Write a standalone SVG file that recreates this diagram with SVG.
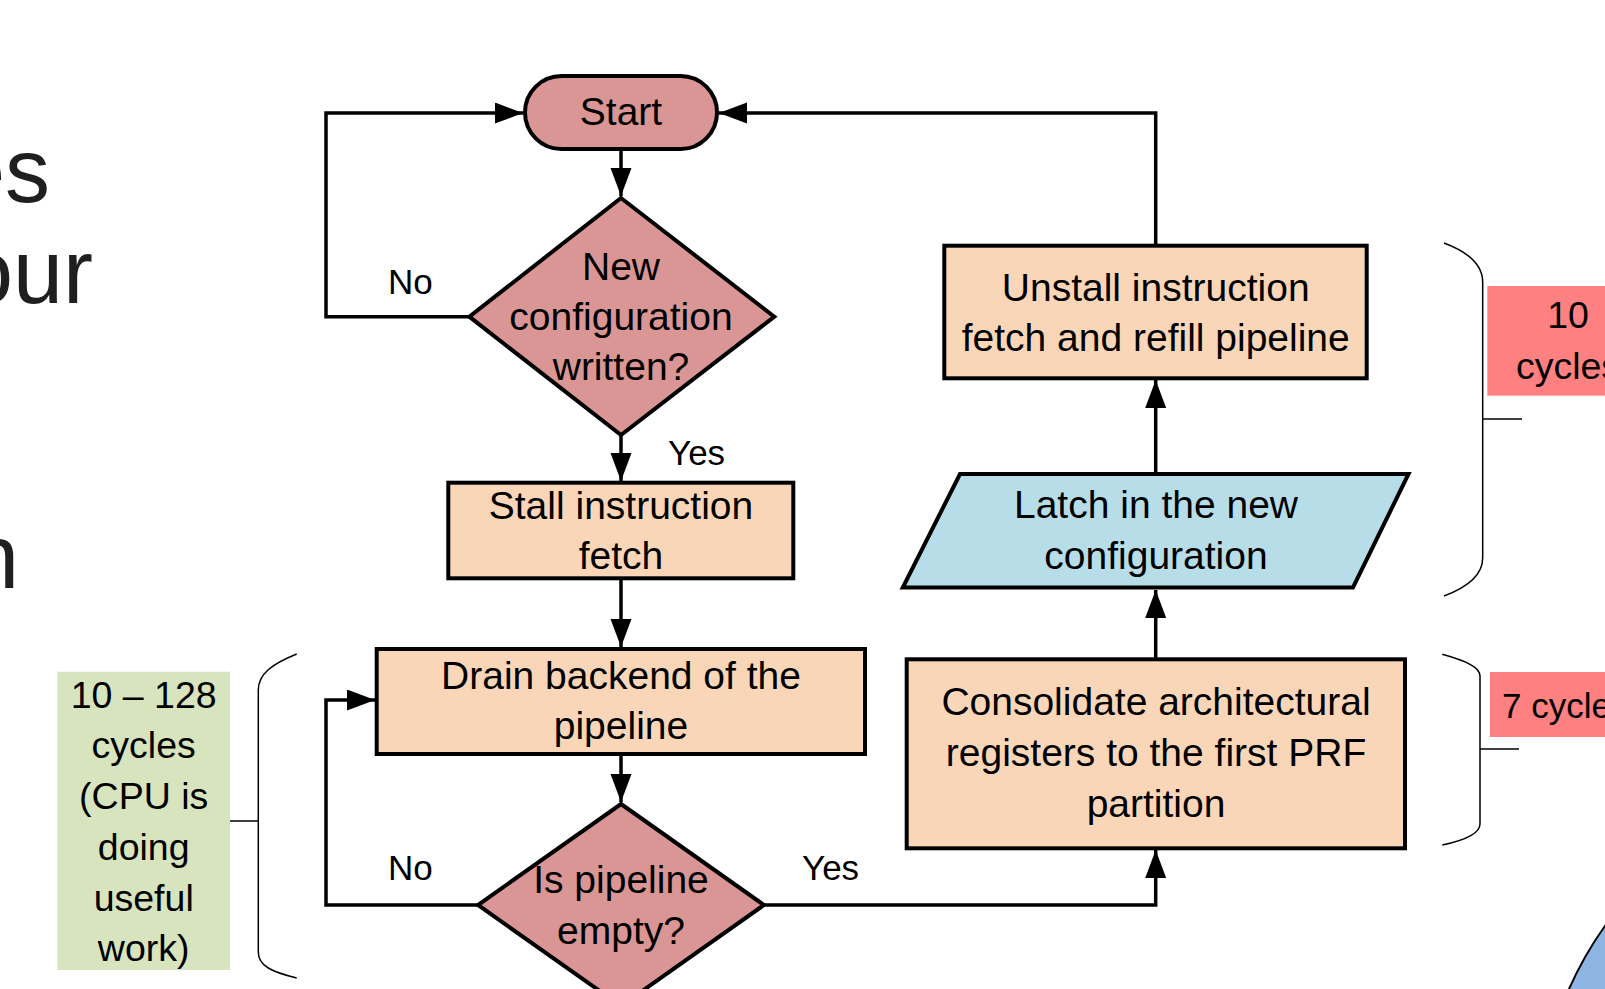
<svg xmlns="http://www.w3.org/2000/svg" width="1605" height="989" viewBox="0 0 1605 989">
<defs>
<marker id="ah" markerUnits="userSpaceOnUse" markerWidth="30" markerHeight="22" refX="28" refY="10.5" orient="auto">
<path d="M0,0 L28,10.5 L0,21 z" fill="#000"/>
</marker>
<style>
.t{font-family:"Liberation Sans",Arial,sans-serif;font-size:39px;fill:#000;text-anchor:middle}
.s{font-size:37.5px}
.lbl{font-family:"Liberation Sans",Arial,sans-serif;font-size:35px;fill:#000}
.big{font-family:"Liberation Sans",Arial,sans-serif;font-size:90px;fill:#1f1f1f;text-anchor:end}
.shape{stroke:#000;stroke-width:4;stroke-linejoin:miter}
.term{fill:#D99694}
.proc{fill:#FAD6B8}
.io{fill:#B7DDE8}
.conn{fill:none;stroke:#000;stroke-width:3.5}
.brace{fill:none;stroke:#000;stroke-width:1.5}
</style>
</defs>
<rect width="1605" height="989" fill="#fff"/>

<g id="bg-text">
<text class="big" x="50" y="202">es</text>
<text class="big" x="93" y="303">our</text>
<text class="big" x="19" y="588">n</text>
</g>

<g id="circle">
<circle cx="1902" cy="1137.5" r="364.6" fill="#8DB4E2" stroke="#000" stroke-width="2"/>
</g>

<g id="connectors">
<path class="conn" d="M621,149 L621,196" marker-end="url(#ah)"/>
<path class="conn" d="M621,435 L621,481" marker-end="url(#ah)"/>
<path class="conn" d="M621,578 L621,647" marker-end="url(#ah)"/>
<path class="conn" d="M621,754 L621,802" marker-end="url(#ah)"/>
<path class="conn" d="M469,316.7 L326,316.7 L326,113 L523,113" marker-end="url(#ah)"/>
<path class="conn" d="M478,905 L326,905 L326,700 L375,700" marker-end="url(#ah)"/>
<path class="conn" d="M764,905 L1155.7,905 L1155.7,850" marker-end="url(#ah)"/>
<path class="conn" d="M1155.7,659 L1155.7,590" marker-end="url(#ah)"/>
<path class="conn" d="M1155.7,474 L1155.7,380" marker-end="url(#ah)"/>
<path class="conn" d="M1155.7,245.7 L1155.7,113 L719,113" marker-end="url(#ah)"/>
<text class="lbl" x="388" y="294">No</text>
<text class="lbl" x="668" y="465">Yes</text>
<text class="lbl" x="388" y="880">No</text>
<text class="lbl" x="802" y="880">Yes</text>
</g>

<g id="start">
<rect class="shape term" x="525" y="76" width="192" height="73" rx="36.5"/>
<text class="t" x="621" y="125">Start</text>
</g>

<g id="decision-new-config">
<polygon class="shape term" points="621,198 774.3,316.7 621,435 469.3,316.7"/>
<text class="t" x="621" y="279.5">New</text>
<text class="t" x="621" y="329.5">configuration</text>
<text class="t" x="621" y="379.5">written?</text>
</g>

<g id="stall">
<rect class="shape proc" x="448.3" y="482.7" width="345" height="95.6"/>
<text class="t" x="621" y="518.5">Stall instruction</text>
<text class="t" x="621" y="569">fetch</text>
</g>

<g id="drain">
<rect class="shape proc" x="376.7" y="649" width="488.3" height="105"/>
<text class="t" x="621" y="689">Drain backend of the</text>
<text class="t" x="621" y="739">pipeline</text>
</g>

<g id="decision-empty">
<polygon class="shape term" points="621,804 764,905 621,1006 478,905"/>
<text class="t" x="621" y="893">Is pipeline</text>
<text class="t" x="621" y="944">empty?</text>
</g>

<g id="consolidate">
<rect class="shape proc" x="906.7" y="659.3" width="498.3" height="189"/>
<text class="t" x="1156" y="715">Consolidate architectural</text>
<text class="t" x="1156" y="766">registers to the first PRF</text>
<text class="t" x="1156" y="817">partition</text>
</g>

<g id="latch">
<polygon class="shape io" points="960,474 1408.5,474 1353,587.5 902.8,587.5"/>
<text class="t" x="1156" y="518">Latch in the new</text>
<text class="t" x="1156" y="568.5">configuration</text>
</g>

<g id="unstall">
<rect class="shape proc" x="944.3" y="245.7" width="422.4" height="132.6"/>
<text class="t" x="1155.7" y="300.5">Unstall instruction</text>
<text class="t" x="1155.7" y="350.5">fetch and refill pipeline</text>
</g>

<g id="brace-left">
<path class="brace" d="M296.7,654 C272,664 258.3,674 258.3,690 L258.3,952 C258.3,966 272,972 296.7,978"/>
<path class="brace" d="M230,821 L258.3,821"/>
</g>

<g id="brace-right-top">
<path class="brace" d="M1444,243 C1468,252 1482.7,265 1482.7,282 L1482.7,558 C1482.7,575 1468,587 1444,596"/>
<path class="brace" d="M1482.7,419 L1522,419"/>
</g>

<g id="brace-right-bottom">
<path class="brace" d="M1442.3,654.3 C1466,661 1480,667 1480,676 L1480,824 C1480,833 1466,840 1442.3,845"/>
<path class="brace" d="M1480,749 L1519,749"/>
</g>

<g id="label-cpu">
<rect x="57.3" y="671.7" width="172.7" height="298.3" fill="#D7E4BD"/>
<text class="t s" x="143.7" y="707.5">10 – 128</text>
<text class="t s" x="143.7" y="758.3">cycles</text>
<text class="t s" x="143.7" y="809">(CPU is</text>
<text class="t s" x="143.7" y="859.8">doing</text>
<text class="t s" x="143.7" y="910.6">useful</text>
<text class="t s" x="143.7" y="961">work)</text>
</g>

<g id="label-10-cycles">
<rect x="1487.3" y="286" width="118" height="109.7" fill="#FF8080"/>
<text class="t s" x="1568" y="328">10</text>
<text class="t s" x="1568" y="379">cycles</text>
</g>

<g id="label-7-cycles">
<rect x="1490" y="672" width="115" height="65" fill="#FF8080"/>
<text class="lbl s" x="1502" y="718">7 cycles</text>
</g>
</svg>
